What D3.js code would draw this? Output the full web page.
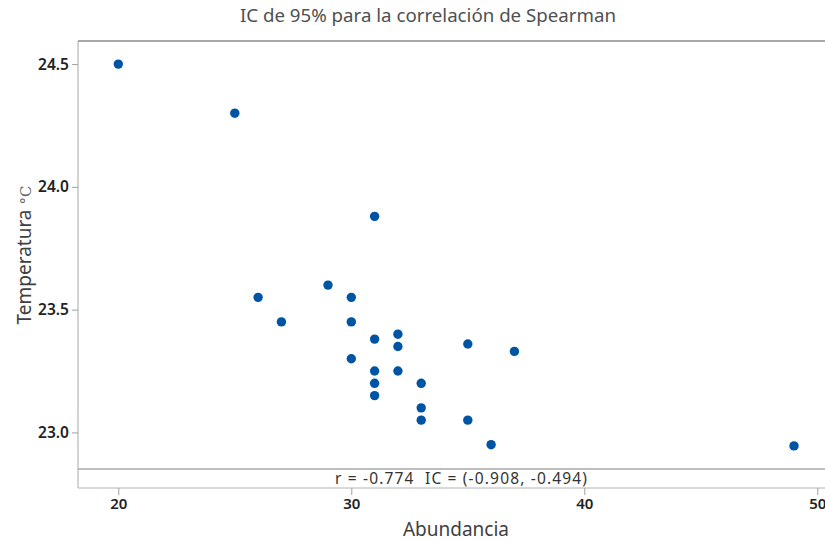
<!DOCTYPE html>
<html>
<head>
<meta charset="utf-8">
<script src="https://cdn.jsdelivr.net/npm/d3@7"></script>
<style>
  body { margin: 0; background: #fff; }
  text { font-family: "Noto Sans", "Open Sans", sans-serif; }
</style>
</head>
<body>
<div id="chart"></div>
<script>
// Data
const abundancia = [20, 25, 31, 26, 27, 29, 30, 30, 30, 31, 31, 31, 31, 32, 32, 32, 33, 33, 33, 35, 35, 36, 37, 49];
const temperatura = [24.5, 24.3, 23.88, 23.55, 23.45, 23.6, 23.55, 23.45, 23.3, 23.38, 23.25, 23.2, 23.15, 23.4, 23.35, 23.25, 23.2, 23.1, 23.05, 23.36, 23.05, 22.95, 23.33, 22.945];
const xTicks = [20, 30, 40, 50];
const yTicks = [23.0, 23.5, 24.0, 24.5];
const titleText = "IC de 95% para la correlación de Spearman";
const annotation = "r = -0.774  IC = (-0.908, -0.494)";

const WIDTH = 825;
const HEIGHT = 542;
const PLOT_LEFT = 78;
const PLOT_TOP = 41;
const SEP_Y = 469;
const PLOT_BOTTOM = 488;

const svg = d3.select("#chart").append("svg")
  .attr("width", WIDTH)
  .attr("height", HEIGHT);

const xScale = d3.scaleLinear().domain([18.27, 50.6]).range([PLOT_LEFT, PLOT_LEFT + 32.33 * 23.3]);
const yScale = d3.scaleLinear().domain([22.851, 24.594]).range([SEP_Y, PLOT_TOP]);

// Title
svg.append("text")
  .attr("x", 428).attr("y", 22)
  .attr("text-anchor", "middle")
  .attr("font-size", 18.7)
  .attr("fill", "#505050")
  .text(titleText);

// Frame
svg.append("line").attr("x1", PLOT_LEFT).attr("x2", WIDTH).attr("y1", PLOT_TOP).attr("y2", PLOT_TOP)
  .attr("stroke", "#a8a8a8").attr("stroke-width", 2);
svg.append("line").attr("x1", PLOT_LEFT).attr("x2", PLOT_LEFT).attr("y1", PLOT_TOP).attr("y2", PLOT_BOTTOM)
  .attr("stroke", "#a8a8a8").attr("stroke-width", 1);
svg.append("line").attr("x1", PLOT_LEFT).attr("x2", WIDTH).attr("y1", PLOT_BOTTOM).attr("y2", PLOT_BOTTOM)
  .attr("stroke", "#b4b4b4").attr("stroke-width", 1);
svg.append("line").attr("x1", PLOT_LEFT).attr("x2", WIDTH).attr("y1", SEP_Y).attr("y2", SEP_Y)
  .attr("stroke", "#a8a8a8").attr("stroke-width", 1.5);

// Y axis
const yAxis = svg.append("g")
  .attr("transform", `translate(${PLOT_LEFT},0)`)
  .call(d3.axisLeft(yScale).tickValues(yTicks).tickFormat(d3.format(".1f")).tickSize(6).tickPadding(3));
yAxis.select(".domain").remove();
yAxis.selectAll("line").attr("stroke", "#a0a0a0");
yAxis.selectAll("text").attr("font-size", 15.5).attr("font-weight", 600).attr("fill", "#222")
  .attr("font-family", "'Noto Sans', sans-serif");

// X axis
const xAxis = svg.append("g")
  .attr("transform", `translate(0,${PLOT_BOTTOM})`)
  .call(d3.axisBottom(xScale).tickValues(xTicks).tickFormat(d3.format("d")).tickSize(7).tickPadding(3));
xAxis.select(".domain").remove();
xAxis.selectAll("line").attr("stroke", "#a0a0a0");
xAxis.selectAll("text").attr("font-size", 15).attr("font-weight", 600).attr("fill", "#222")
  .attr("font-family", "'Noto Sans', sans-serif");

// Points
svg.append("g").selectAll("circle")
  .data(abundancia.map((a, i) => ({ a, t: temperatura[i] })))
  .join("circle")
  .attr("cx", (d) => xScale(d.a))
  .attr("cy", (d) => yScale(d.t))
  .attr("r", 4.7)
  .attr("fill", "#0054a4");

// Annotation
svg.append("text")
  .attr("x", 461).attr("y", 484)
  .attr("text-anchor", "middle")
  .attr("font-size", 15.5)
  .attr("fill", "#333")
  .attr("textLength", 252)
  .attr("lengthAdjust", "spacing")
  .style("white-space", "pre")
  .text(annotation);

// Axis titles
svg.append("text")
  .attr("x", 456).attr("y", 536)
  .attr("text-anchor", "middle")
  .attr("font-size", 19)
  .attr("fill", "#404040")
  .text("Abundancia");

const yLabel = svg.append("text")
  .attr("transform", "translate(31,255) rotate(-90)")
  .attr("text-anchor", "middle")
  .attr("font-size", 19)
  .attr("fill", "#404040");
yLabel.append("tspan").text("Temperatura ");
yLabel.append("tspan").attr("font-family", "'DejaVu Serif', serif").attr("font-size", 15).attr("fill", "#666").text("°C");
</script>
</body>
</html>
